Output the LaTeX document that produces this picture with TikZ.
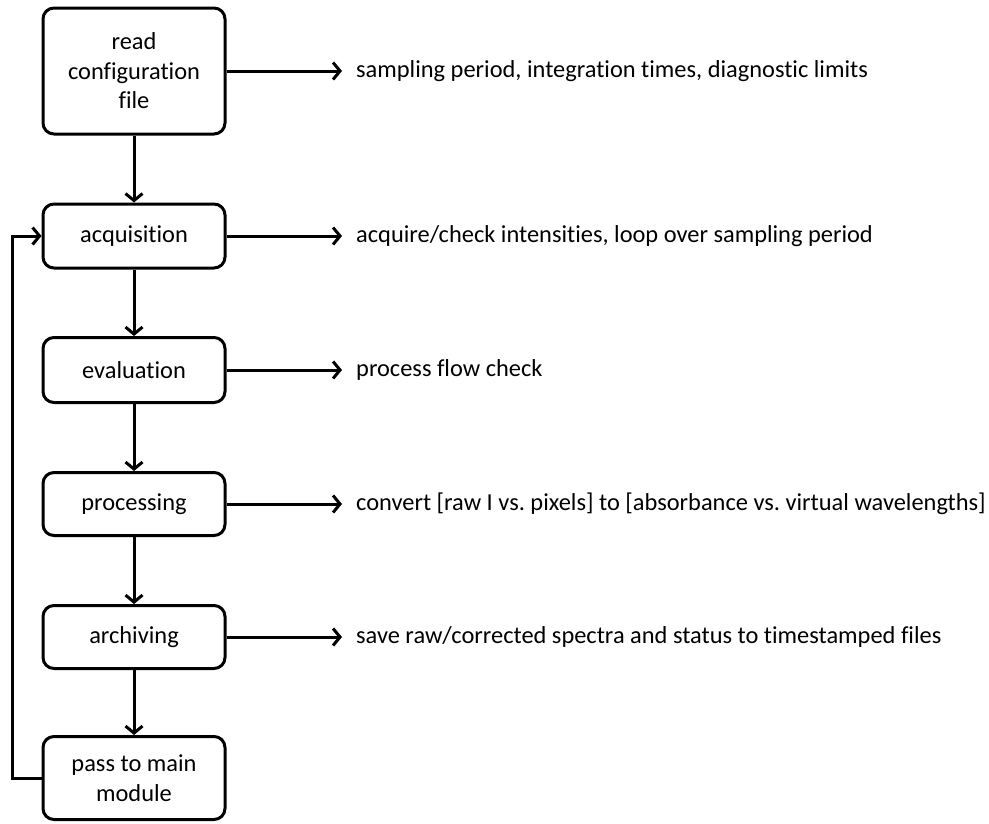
\documentclass[tikz,border=0pt]{standalone}
\usepackage{fontspec}
\setmainfont{Carlito}[Ligatures=NoCommon]
\usetikzlibrary{arrows.meta}
\frenchspacing
\begin{document}
\begin{tikzpicture}[x=1pt,y=-1pt,
  stepbox/.style={draw,line width=3pt,rounded corners=11pt,minimum width=182pt,
    align=center,font=\fontsize{24.4}{29.5}\selectfont,inner sep=0pt},
  flow/.style={line width=3pt,-{Straight Barb[length=7pt,width=17pt,line width=3pt]}},
  note/.style={anchor=west,font=\fontsize{24.4}{29}\selectfont,inner sep=0pt}]
\useasboundingbox (0,0) rectangle (989,823);
% main chain of steps
\node[stepbox,minimum height=126pt] (cfg) at (134,71) {read\\configuration\\file};
\node[stepbox,minimum height=64pt] (acq) at (134,236) {acquisition};
\node[stepbox,minimum height=65pt] (eva) at (134,370) {evaluation};
\node[stepbox,minimum height=63pt] (pro) at (134,504) {processing};
\node[stepbox,minimum height=63pt] (arc) at (134,637) {archiving};
\node[stepbox,minimum height=83pt] (pas) at (134,778) {pass to main\\module};
% descriptions to the right
\node[note] (n1) at (356,71) {sampling period, integration times, diagnostic limits};
\node[note] (n2) at (356,236) {acquire/check intensities, loop over sampling period};
\node[note] (n3) at (356,370) {process flow check};
\node[note] (n4) at (356,504) {convert [raw I vs. pixels] to [absorbance vs. virtual wavelengths]};
\node[note] (n5) at (356,637) {save raw/corrected spectra and status to timestamped files};
% vertical flow
\draw[flow] (cfg) -- (acq);
\draw[flow] (acq) -- (eva);
\draw[flow] (eva) -- (pro);
\draw[flow] (pro) -- (arc);
\draw[flow] (arc) -- (pas);
% horizontal arrows to descriptions
\foreach \s/\n in {cfg/n1,acq/n2,eva/n3,pro/n4,arc/n5}
  \draw[flow] (\s.east) -- ([xshift=-14pt]\n.west);
% loop back
\coordinate (lx) at (12,0);
\draw[flow] (pas.west) -- (pas.west -| lx) -- (acq.west -| lx) -- (acq.west);
\end{tikzpicture}
\end{document}
